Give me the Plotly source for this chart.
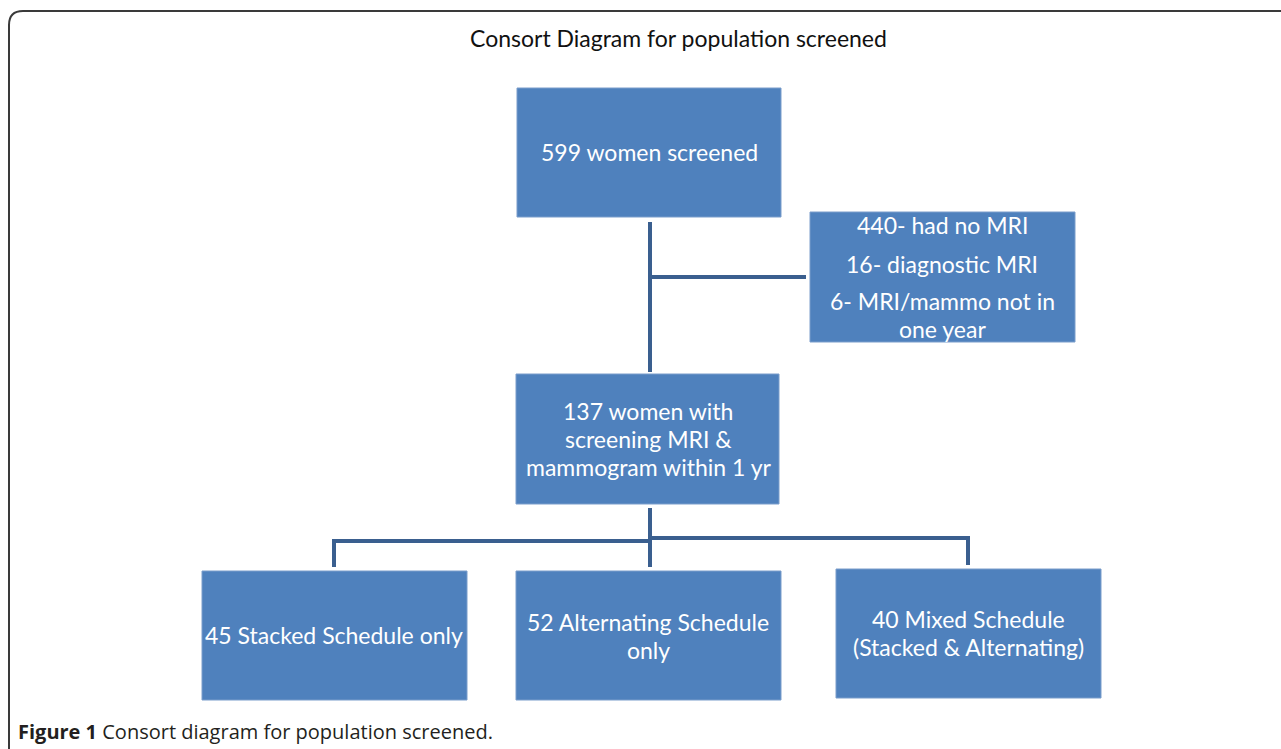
import plotly.graph_objects as go

# ---- data ----
title_text = "Consort Diagram for population screened"
screened_n = [599]
screened_label = ["women screened"]
excluded_n = [440, 16, 6]
excluded_label = ["had no MRI", "diagnostic MRI", "MRI/mammo not in<br>one year"]
eligible_n = [137]
eligible_label = ["women with<br>screening MRI &<br>mammogram within 1 yr"]
group_n = [45, 52, 40]
group_label = ["Stacked Schedule only", "Alternating Schedule<br>only", "Mixed Schedule<br>(Stacked & Alternating)"]
caption_bold = "Figure 1"
caption_text = "Consort diagram for population screened."

W, H = 1281, 749
BOX_FILL = "#4F81BD"
BOX_LINE = "#7A9DCB"
LINK = "#3A5F8F"
FONT = "Lato, 'Open Sans', sans-serif"
FS = 23
LH = 28

fig = go.Figure()
shapes = []
annotations = []

def box(x0, y0, x1, y1):
    shapes.append(dict(type="rect", xref="x", yref="y", x0=x0, x1=x1, y0=y0, y1=y1,
                       fillcolor=BOX_FILL, line=dict(color=BOX_LINE, width=1), layer="above"))

def seg(x0, y0, x1, y1):
    shapes.append(dict(type="line", xref="x", yref="y", x0=x0, x1=x1, y0=y0, y1=y1,
                       line=dict(color=LINK, width=4), layer="above"))

def txt(x, y, s, size=FS):
    lines = s.split("<br>")
    n = len(lines)
    for i, ln in enumerate(lines):
        yy = y + (i - (n - 1) / 2) * LH
        annotations.append(dict(x=x, y=yy, xref="x", yref="y", text=ln, showarrow=False,
                                font=dict(family=FONT, size=size, color="white"),
                                xanchor="center", yanchor="middle", align="center"))

# outer rounded frame
r = 14
x0f, y0f, x1f, y1f = 9, 11, 1290, 760
shapes.append(dict(type="path", xref="x", yref="y",
                   path=f"M {x0f+r},{y0f} L {x1f},{y0f} L {x1f},{y1f} L {x0f},{y1f} L {x0f},{y0f+r} Q {x0f},{y0f} {x0f+r},{y0f} Z",
                   line=dict(color="#3a3a3a", width=2), fillcolor="rgba(0,0,0,0)", layer="below"))

# connectors
seg(650, 222, 650, 372)
seg(648, 277, 806, 277)
seg(650, 508, 650, 567)
seg(332, 541, 652, 541)
seg(648, 538, 970, 538)
seg(334, 539, 334, 567)
seg(968, 536, 968, 565)

# boxes
box(517, 88, 781, 217)
box(810, 212, 1075, 342)
box(516, 374, 779, 504)
box(202, 571, 467, 700)
box(516, 571, 781, 700)
box(836, 569, 1101, 698)

txt(649, 152, f"{screened_n[0]} {screened_label[0]}")
txt(942, 225, f"{excluded_n[0]}- {excluded_label[0]}")
txt(942, 264, f"{excluded_n[1]}- {excluded_label[1]}")
txt(942, 315, f"{excluded_n[2]}- {excluded_label[2]}")
txt(648, 439, f"{eligible_n[0]} {eligible_label[0]}")
txt(334, 635, f"{group_n[0]} {group_label[0]}")
txt(648, 636, f"{group_n[1]} {group_label[1]}")
txt(968, 633, f"{group_n[2]} {group_label[2]}")

annotations.append(dict(x=678, y=38, xref="x", yref="y", text=title_text, showarrow=False,
                        font=dict(family=FONT, size=23, color="#111111"),
                        xanchor="center", yanchor="middle"))
annotations.append(dict(x=16, y=731, xref="x", yref="y",
                        text=f"<b>{caption_bold}</b> {caption_text}", showarrow=False,
                        font=dict(family="'Open Sans', sans-serif", size=20, color="#231f20"),
                        xanchor="left", yanchor="middle"))

fig.update_layout(
    width=W, height=H, margin=dict(l=0, r=0, t=0, b=0),
    paper_bgcolor="white", plot_bgcolor="white",
    xaxis=dict(range=[0, W], visible=False, fixedrange=True),
    yaxis=dict(range=[H, 0], visible=False, fixedrange=True),
    shapes=shapes, annotations=annotations, showlegend=False,
)
fig.write_html("out.html", config={"displayModeBar": False},
               post_script="document.body.style.margin='0';document.body.style.overflow='hidden';")
